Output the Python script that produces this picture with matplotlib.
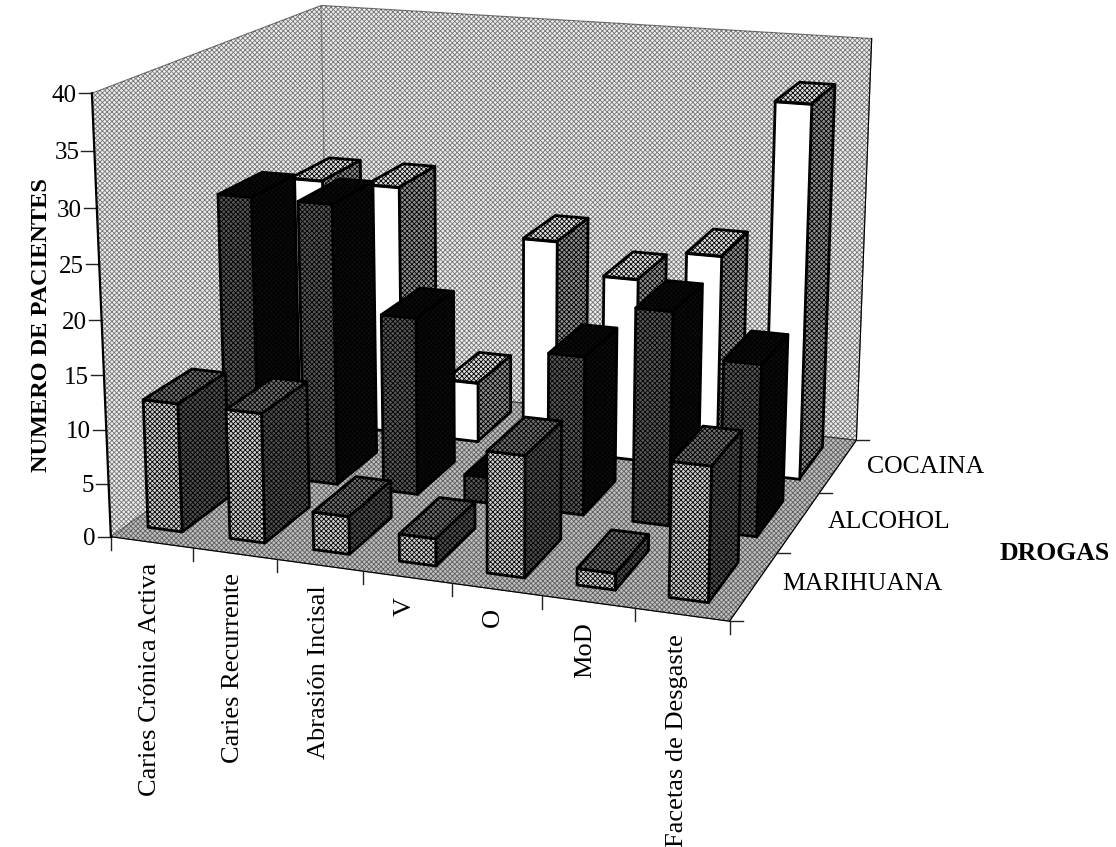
import numpy as np
import matplotlib
matplotlib.use('Agg')
import matplotlib.pyplot as plt
from matplotlib.lines import Line2D
from mpl_toolkits.mplot3d import proj3d
from mpl_toolkits.mplot3d.art3d import Poly3DCollection

plt.rc('font', family='Liberation Serif', size=19)
plt.rc('hatch', linewidth=0.6)

categorias = ['Caries Crónica Activa', 'Caries Recurrente', 'Abrasión Incisal', 'V', 'O', 'MoD', 'Facetas de Desgaste']
drogas = ['MARIHUANA', 'ALCOHOL', 'COCAINA']
marihuana = [12, 12, 3.5, 2.5, 11, 1.5, 12]
alcohol = [27, 27, 17, 2.5, 15, 20, 16]
cocaina = [25, 25, 6, 21, 18, 21, 36]
valori = [marihuana, alcohol, cocaina]
zticks = [0, 5, 10, 15, 20, 25, 30, 35, 40]

# posizione a mano delle etichette (pixel)
pos_categorie = [(150, 563), (233, 573), (319, 585), (405, 597), (493, 608), (585, 622), (677, 634)]
pos_drogas = [(782, 584), (828, 522), (867, 467)]

retino = 'xxxxxxx'

W, H = 1116, 847
fig = plt.figure(figsize=(W / 100, H / 100), dpi=100)
ax = fig.add_axes([0.0386, 0.1264, 0.8028, 1.0578], projection='3d', computed_zorder=False)
ax.set_xlim(0, 7, view_margin=0)
ax.set_ylim(0, 3, view_margin=0)
ax.set_zlim(0, 40, view_margin=0)
ax.view_init(elev=15.382, azim=-70.259)
ax.set_proj_type('persp', focal_length=0.536)
ax.set_box_aspect((1, 0.854, 0.707))

ax.grid(False)
for asse, colore in [(ax.xaxis, '#dcdcdc'), (ax.yaxis, '#dcdcdc'), (ax.zaxis, '#808080')]:
    asse.pane.set_facecolor(colore)
    asse.pane.set_edgecolor('black')
    asse.pane.set_hatch(retino)
    asse.pane.set_linewidth(0.8)
    asse.line.set_color('black')
    asse._axinfo['tick']['inward_factor'] = 0
    asse._axinfo['tick']['outward_factor'] = 0
ax.set_xticks(np.arange(8))
ax.set_xticklabels([])
ax.set_yticks(np.arange(4))
ax.set_yticklabels([])
ax.set_zticks(zticks)
ax.set_zticklabels([])

larghezza, profondita = 0.42, 0.6
stili = [
    {'front': ('#d0d0d0', retino), 'right': ('#505050', retino), 'top': ('#707070', retino)},
    {'front': ('#585858', retino), 'right': ('#0c0c0c', retino), 'top': ('#0c0c0c', retino)},
    {'front': ('#ffffff', None), 'right': ('#909090', retino), 'top': ('#e0e0e0', retino)},
]
n = 10
for j in [2, 1, 0]:
    for i in range(7):
        x0, x1 = i + 0.46 - larghezza / 2, i + 0.46 + larghezza / 2
        y0, y1 = j + 0.5 - profondita / 2, j + 0.5 + profondita / 2
        h = valori[j][i]
        facce = {
            'front': [(x0, y0, 0), (x1, y0, 0), (x1, y0, h), (x0, y0, h)],
            'right': [(x1, y0, 0), (x1, y1, 0), (x1, y1, h), (x1, y0, h)],
            'top': [(x0, y0, h), (x1, y0, h), (x1, y1, h), (x0, y1, h)],
        }
        for nome in ['right', 'front', 'top']:
            colore, hatch = stili[j][nome]
            pc = Poly3DCollection([facce[nome]], facecolor=colore, edgecolor='black', linewidth=2, hatch=hatch, zorder=n)
            ax.add_collection3d(pc, autolim=False)
            n += 1

ax.apply_aspect()
M = ax.get_proj()

def a_pixel(x, y, z):
    X, Y, _ = proj3d.proj_transform(x, y, z, M)
    return ax.transData.transform((X, Y))

def tacca(x, y, z, dx, dy):
    px, py = a_pixel(x, y, z)
    fig.add_artist(Line2D([px / W, (px + dx) / W], [py / H, (py + dy) / H], color='#222222', lw=1))
    return px, py

# tacche orizzontali/verticali come nell'originale
for z in zticks:
    px, py = tacca(0, 0, z, -13, 0)
    fig.text((px - 15) / W, py / H, str(z), ha='right', va='center_baseline', fontsize=18)
for i in range(8):
    tacca(i, 0, 0, 0, -13)
for j in range(4):
    tacca(7, j, 0, 13, 0)

p0, p1 = a_pixel(0, 0, 0), a_pixel(0, 0, 40)
fig.add_artist(Line2D([p0[0] / W, p1[0] / W], [p0[1] / H, p1[1] / H], color='black', lw=1.6))

for nome, (x, y) in zip(categorias, pos_categorie):
    fig.text(x / W, 1 - y / H, nome, rotation=90, ha='center', va='top', fontsize=19)
for nome, (x, y) in zip(drogas, pos_drogas):
    fig.text(x / W, 1 - y / H, nome, ha='left', va='center', fontsize=18.5)

fig.text(42 / W, 1 - 325 / H, 'NUMERO DE PACIENTES', rotation=90, ha='center', va='center', fontweight='bold', fontsize=17.5)
fig.text(1055 / W, 1 - 553 / H, 'DROGAS', ha='center', va='center', fontweight='bold', fontsize=18.5)

fig.savefig('out.png', dpi=100)
